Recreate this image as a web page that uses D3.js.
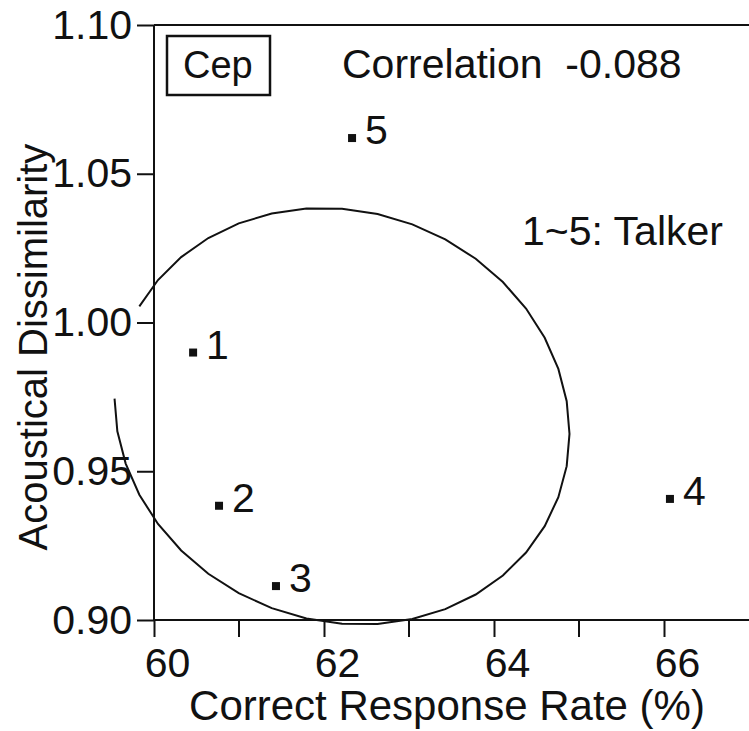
<!DOCTYPE html>
<html>
<head>
<meta charset="utf-8">
<script src="https://cdn.jsdelivr.net/npm/d3@7"></script>
<style>
  html, body { margin: 0; padding: 0; background: #fff; }
  svg { display: block; }
  text { font-family: "Liberation Sans", Arial, Helvetica, sans-serif; fill: #111; }
</style>
</head>
<body>
<script>
// Talker results: correct response rate (%) vs. acoustical dissimilarity (cepstrum)
const talkers = ["1", "2", "3", "4", "5"];
const responseRate = [60.46, 60.765, 61.435, 66.07, 62.33];
const dissimilarity = [0.9899, 0.9384, 0.9114, 0.9407, 1.062];

const xTicks = [60, 62, 64, 66];
const xMinorTicks = [61, 63, 65];
const yTicks = [0.90, 0.95, 1.00, 1.05, 1.10];

const featureName = "Cep";
const correlationText = "Correlation  -0.088";
const legendText = "1~5: Talker";
const xTitle = "Correct Response Rate (%)";
const yTitle = "Acoustical Dissimilarity";

// 50% confidence ellipse of the talker points
const ellipseLevel = 0.5;
const ellipseStartDeg = 180;
const ellipseEndDeg = 513;
const ellipseStepDeg = 9;

const W = 749, H = 731;
const plot = { left: 154, right: 749, top: 25, bottom: 620 };

const svg = d3.select("body").append("svg").attr("width", W).attr("height", H);

const x = d3.scaleLinear().domain([60, 67]).range([plot.left, plot.right]);
const y = d3.scaleLinear().domain([0.90, 1.10]).range([plot.bottom, plot.top]);

const ink = "#111";

// ellipse from the sample covariance
const n = responseRate.length;
const mx = d3.mean(responseRate), my = d3.mean(dissimilarity);
const sx = d3.deviation(responseRate), sy = d3.deviation(dissimilarity);
let cov = 0;
for (let i = 0; i < n; i++) cov += (responseRate[i] - mx) * (dissimilarity[i] - my);
cov /= (n - 1);
const r = cov / (sx * sy);
const k = Math.sqrt(-2 * Math.log(1 - ellipseLevel));
const ellipsePts = d3.range(ellipseStartDeg, ellipseEndDeg + 0.001, ellipseStepDeg).map(deg => {
  const t = deg * Math.PI / 180;
  const ex = mx + k * sx * Math.cos(t);
  const ey = my + k * sy * (r * Math.cos(t) + Math.sqrt(1 - r * r) * Math.sin(t));
  return [x(ex), y(ey)];
});
svg.append("path")
  .attr("d", d3.line()(ellipsePts))
  .attr("fill", "none")
  .attr("stroke", ink)
  .attr("stroke-width", 2);

// frame: top border
svg.append("line")
  .attr("x1", plot.left).attr("x2", plot.right)
  .attr("y1", plot.top).attr("y2", plot.top)
  .attr("stroke", ink).attr("stroke-width", 2);

// y axis
const yAxis = svg.append("g").attr("transform", `translate(${plot.left},0)`)
  .call(d3.axisLeft(y).tickValues(yTicks).tickFormat(d3.format(".2f")).tickSize(17).tickPadding(5));
yAxis.select(".domain").attr("stroke", ink).attr("stroke-width", 2).attr("d", `M0,${plot.top}V${plot.bottom}`);
yAxis.selectAll(".tick line").attr("stroke", ink).attr("stroke-width", 2);
yAxis.selectAll(".tick text")
  .attr("font-size", 41).attr("fill", ink)
  .style("font-family", '"Liberation Sans", Arial, Helvetica, sans-serif');

// x axis
const xAxis = svg.append("g").attr("transform", `translate(0,${plot.bottom})`)
  .call(d3.axisBottom(x).tickValues(xTicks).tickFormat(d3.format("d")).tickSize(17).tickPadding(11));
xAxis.select(".domain").attr("stroke", ink).attr("stroke-width", 2).attr("d", `M${plot.left},0H${plot.right}`);
xAxis.selectAll(".tick line").attr("stroke", ink).attr("stroke-width", 2);
xAxis.selectAll(".tick text")
  .attr("font-size", 41).attr("fill", ink).attr("dx", 13)
  .style("font-family", '"Liberation Sans", Arial, Helvetica, sans-serif');
xAxis.selectAll(".minor").data(xMinorTicks).enter().append("line")
  .attr("class", "minor")
  .attr("x1", d => x(d)).attr("x2", d => x(d))
  .attr("y1", 0).attr("y2", 17)
  .attr("stroke", ink).attr("stroke-width", 2);

// axis titles
svg.append("text")
  .attr("x", 447).attr("y", 720)
  .attr("text-anchor", "middle").attr("font-size", 42)
  .text(xTitle);
svg.append("text")
  .attr("transform", "translate(47,347) rotate(-90)")
  .attr("text-anchor", "middle").attr("font-size", 40)
  .text(yTitle);

// points and talker labels
const pts = talkers.map((t, i) => ({ t, x: responseRate[i], y: dissimilarity[i] }));
svg.selectAll("rect.pt").data(pts).enter().append("rect")
  .attr("class", "pt")
  .attr("x", d => x(d.x) - 4).attr("y", d => y(d.y) - 4)
  .attr("width", 8).attr("height", 8)
  .attr("fill", ink);
svg.selectAll("text.pt").data(pts).enter().append("text")
  .attr("class", "pt")
  .attr("x", d => x(d.x) + 13).attr("y", d => y(d.y) + 6)
  .attr("font-size", 41)
  .text(d => d.t);

// feature box
svg.append("rect")
  .attr("x", 167).attr("y", 36).attr("width", 103).attr("height", 59)
  .attr("fill", "none").attr("stroke", ink).attr("stroke-width", 2.5);
svg.append("text")
  .attr("x", 183).attr("y", 78).attr("font-size", 38)
  .text(featureName);

// annotations
svg.append("text")
  .attr("x", 342).attr("y", 78).attr("font-size", 41)
  .attr("xml:space", "preserve").style("white-space", "pre")
  .text(correlationText);
svg.append("text")
  .attr("x", 522).attr("y", 245).attr("font-size", 41)
  .text(legendText);
</script>
</body>
</html>
